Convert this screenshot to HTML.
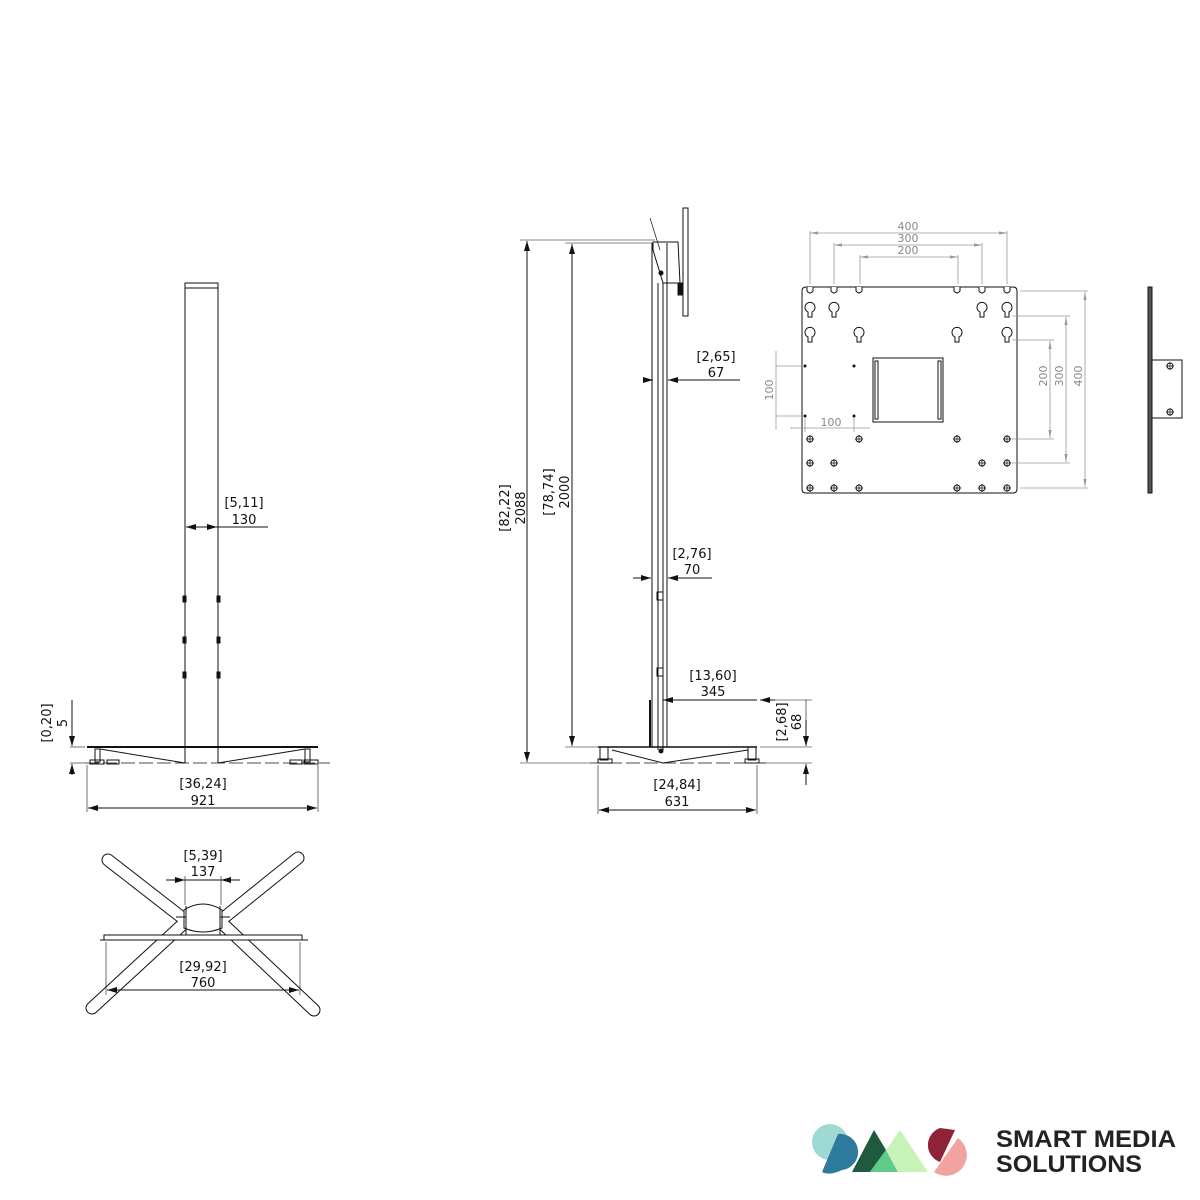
<!DOCTYPE html>
<html><head><meta charset="utf-8"><style>
html,body{margin:0;padding:0;background:#fff}
svg{display:block}
text{font-family:"DejaVu Sans","Liberation Sans",sans-serif;fill:#111}
.d{font-size:13px;text-anchor:middle}
.g{font-size:11px;fill:#888;text-anchor:middle}
</style></head><body>
<svg width="1200" height="1200" viewBox="0 0 1200 1200" xmlns="http://www.w3.org/2000/svg">
<defs>
<marker id="a" viewBox="0 0 10 6" refX="10" refY="3" markerWidth="10" markerHeight="6" orient="auto-start-reverse"><path d="M0,0L10,3L0,6z" fill="#111"/></marker>
<marker id="ag" viewBox="0 0 10 4" refX="10" refY="2" markerWidth="10" markerHeight="4" orient="auto-start-reverse"><path d="M0,0L10,2L0,4z" fill="#999"/></marker>
<g id="notch"><path d="M-3,0 L-3,4 Q0,8 3,4 L3,0" fill="#fff" stroke="#111"/></g>
<g id="kh"><path d="M-2,4 L-2,9 L2,9 L2,4 A5,5 0 1 0 -2,4 Z" fill="none" stroke="#111"/></g>
<g id="sc" fill="none" stroke="#111"><circle r="3"/><path d="M-4,0H4M0,-4V4" stroke-width="0.7"/></g>
</defs>
<g stroke="#111" fill="none" stroke-width="1">
<!-- LEFT FRONT VIEW -->
<rect x="185" y="283" width="33" height="464"/>
<line x1="185" y1="288" x2="218" y2="288"/>
<rect x="183" y="596" width="3" height="6" fill="#111"/><rect x="217" y="596" width="3" height="6" fill="#111"/>
<rect x="183" y="637" width="3" height="6" fill="#111"/><rect x="217" y="637" width="3" height="6" fill="#111"/>
<rect x="183" y="672" width="3" height="6" fill="#111"/><rect x="217" y="672" width="3" height="6" fill="#111"/>
<line x1="87" y1="747" x2="318" y2="747" stroke-width="2"/>
<path d="M100,749 L185,763 M218,763 L305,749"/>
<line x1="185" y1="747" x2="185" y2="763"/><line x1="218" y1="747" x2="218" y2="763"/>
<rect x="95" y="749" width="5" height="13"/><rect x="305" y="749" width="5" height="13"/>
<rect x="90" y="760" width="14" height="4"/><rect x="107" y="760" width="12" height="4"/>
<rect x="290" y="760" width="12" height="4"/><rect x="304" y="760" width="14" height="4"/>
<line x1="85" y1="763" x2="330" y2="763" stroke-dasharray="14,4" stroke-width="0.7"/>
<line x1="87" y1="765" x2="87" y2="812" stroke-width="0.6"/><line x1="318" y1="765" x2="318" y2="812" stroke-width="0.6"/>
<line x1="88" y1="808" x2="317" y2="808" marker-start="url(#a)" marker-end="url(#a)"/>
<line x1="186" y1="527" x2="217" y2="527" marker-start="url(#a)" marker-end="url(#a)"/>
<line x1="217" y1="527" x2="268" y2="527"/>
<line x1="70" y1="747" x2="85" y2="747" stroke-width="0.6"/><line x1="70" y1="763" x2="85" y2="763" stroke-width="0.6"/>
<line x1="72" y1="700" x2="72" y2="746" marker-end="url(#a)"/>
<line x1="72" y1="775" x2="72" y2="764" marker-end="url(#a)"/>
<!-- BOTTOM VIEW X -->
<g stroke-linecap="round">
<path d="M108,860 L180,916 M298,858 L226,916 M92,1008 L182,925 M314,1010 L224,925" stroke="#111" stroke-width="13"/>
<path d="M108,860 L180,916 M298,858 L226,916 M92,1008 L182,925 M314,1010 L224,925" stroke="#fff" stroke-width="11"/>
</g>
<rect x="104" y="935" width="198" height="5" fill="#fff"/>
<line x1="100" y1="940" x2="308" y2="940"/>
<path d="M184,910 Q203,898 222,910 L222,928 Q203,936 184,928 Z" fill="#fff"/>
<line x1="186" y1="906" x2="186" y2="935"/><line x1="220" y1="906" x2="220" y2="935"/>
<line x1="176" y1="917" x2="186" y2="917"/><line x1="220" y1="917" x2="230" y2="917"/>
<line x1="106" y1="942" x2="106" y2="995" stroke-width="0.6"/><line x1="300" y1="942" x2="300" y2="995" stroke-width="0.6"/>
<line x1="107" y1="990" x2="299" y2="990" marker-start="url(#a)" marker-end="url(#a)"/>
<line x1="166" y1="880" x2="185" y2="880" marker-end="url(#a)"/><line x1="240" y1="880" x2="221" y2="880" marker-end="url(#a)"/>
<line x1="185" y1="880" x2="221" y2="880"/>
<line x1="185" y1="876" x2="185" y2="905" stroke-width="0.6"/><line x1="221" y1="876" x2="221" y2="905" stroke-width="0.6"/>
<!-- MIDDLE SIDE VIEW -->
<rect x="683" y="208" width="5" height="108"/>
<path d="M653,242 L678,242 L680,283 L663,283 L653,250 Z"/>
<line x1="650" y1="218" x2="660" y2="250" stroke-width="0.7"/>
<circle cx="661" cy="273" r="2" fill="#111"/>
<rect x="678" y="283" width="4" height="12" fill="#111"/>
<line x1="652" y1="243" x2="652" y2="747"/><line x1="667" y1="243" x2="667" y2="747"/>
<line x1="658" y1="283" x2="658" y2="750"/><line x1="663" y1="283" x2="663" y2="750"/>
<rect x="657" y="592" width="6" height="8"/><rect x="657" y="668" width="6" height="8"/>
<line x1="650" y1="700" x2="650" y2="747" stroke-width="2"/>
<line x1="598" y1="747" x2="757" y2="747" stroke-width="1.5"/>
<path d="M612,750 L663,763 L748,750"/>
<rect x="600" y="747" width="8" height="13"/><rect x="748" y="747" width="8" height="13"/>
<rect x="598" y="759" width="14" height="4"/><rect x="745" y="759" width="14" height="4"/>
<line x1="590" y1="763" x2="770" y2="763" stroke-dasharray="14,4" stroke-width="0.7"/>
<circle cx="661" cy="751" r="2" fill="#111"/>
<line x1="598" y1="765" x2="598" y2="814" stroke-width="0.6"/><line x1="757" y1="765" x2="757" y2="814" stroke-width="0.6"/>
<line x1="599" y1="810" x2="756" y2="810" marker-start="url(#a)" marker-end="url(#a)"/>
<line x1="520" y1="240" x2="655" y2="240" stroke-width="0.6"/><line x1="565" y1="243" x2="652" y2="243" stroke-width="0.6"/>
<line x1="520" y1="763" x2="590" y2="763" stroke-width="0.6"/><line x1="565" y1="747" x2="598" y2="747" stroke-width="0.6"/>
<line x1="527" y1="241" x2="527" y2="762" marker-start="url(#a)" marker-end="url(#a)"/>
<line x1="572" y1="244" x2="572" y2="746" marker-start="url(#a)" marker-end="url(#a)"/>
<line x1="645" y1="380" x2="653" y2="380" marker-end="url(#a)"/>
<line x1="685" y1="380" x2="668" y2="380" marker-end="url(#a)"/><line x1="685" y1="380" x2="740" y2="380"/>
<line x1="633" y1="578" x2="651" y2="578" marker-end="url(#a)"/>
<line x1="685" y1="578" x2="668" y2="578" marker-end="url(#a)"/><line x1="685" y1="578" x2="712" y2="578"/>
<line x1="663" y1="700" x2="757" y2="700"/>
<line x1="663" y1="700" x2="676" y2="700" marker-start="url(#a)"/>
<line x1="775" y1="700" x2="760" y2="700" marker-end="url(#a)"/>
<line x1="760" y1="700" x2="812" y2="700" stroke-width="0.6"/>
<line x1="760" y1="747" x2="812" y2="747" stroke-width="0.6"/>
<line x1="760" y1="763" x2="812" y2="763" stroke-width="0.6"/>
<line x1="806" y1="720" x2="806" y2="746" marker-end="url(#a)"/>
<line x1="806" y1="785" x2="806" y2="764" marker-end="url(#a)"/>
<line x1="806" y1="700" x2="806" y2="720" stroke-width="0.6"/>
<!-- PLATE -->
<path d="M806,287 L1013,287 Q1017,287 1017,291 L1017,489 Q1017,493 1013,493 L806,493 Q802,493 802,489 L802,291 Q802,287 806,287 Z"/>
<rect x="873" y="358" width="70" height="64"/>
<rect x="875" y="361" width="3" height="58"/><rect x="938" y="361" width="3" height="58"/>
<use href="#notch" x="810" y="287"/><use href="#notch" x="834" y="287"/><use href="#notch" x="859" y="287"/>
<use href="#notch" x="957" y="287"/><use href="#notch" x="982" y="287"/><use href="#notch" x="1007" y="287"/>
<use href="#kh" x="810" y="308"/><use href="#kh" x="834" y="308"/><use href="#kh" x="982" y="308"/><use href="#kh" x="1007" y="308"/>
<use href="#kh" x="810" y="333"/><use href="#kh" x="859" y="333"/><use href="#kh" x="957" y="333"/><use href="#kh" x="1007" y="333"/>
<g fill="#111" stroke="none"><circle cx="805" cy="366" r="1.5"/><circle cx="854" cy="366" r="1.5"/><circle cx="805" cy="416" r="1.5"/><circle cx="854" cy="416" r="1.5"/></g>
<use href="#sc" x="810" y="439"/><use href="#sc" x="859" y="439"/><use href="#sc" x="957" y="439"/><use href="#sc" x="1007" y="439"/>
<use href="#sc" x="810" y="463"/><use href="#sc" x="834" y="463"/><use href="#sc" x="982" y="463"/><use href="#sc" x="1007" y="463"/>
<use href="#sc" x="810" y="488"/><use href="#sc" x="834" y="488"/><use href="#sc" x="859" y="488"/><use href="#sc" x="957" y="488"/><use href="#sc" x="982" y="488"/><use href="#sc" x="1007" y="488"/>
<!-- side profile -->
<rect x="1148" y="287" width="4" height="206" fill="#555"/>
<rect x="1152" y="360" width="30" height="58"/>
<use href="#sc" x="1170" y="366"/><use href="#sc" x="1170" y="412"/>
</g>
<g stroke="#999" fill="none" stroke-width="0.8">
<line x1="810" y1="233" x2="1007" y2="233" marker-start="url(#ag)" marker-end="url(#ag)"/>
<line x1="834" y1="245" x2="982" y2="245" marker-start="url(#ag)" marker-end="url(#ag)"/>
<line x1="860" y1="257" x2="958" y2="257" marker-start="url(#ag)" marker-end="url(#ag)"/>
<line x1="810" y1="231" x2="810" y2="284"/><line x1="1007" y1="231" x2="1007" y2="284"/>
<line x1="834" y1="243" x2="834" y2="284"/><line x1="982" y1="243" x2="982" y2="284"/>
<line x1="860" y1="255" x2="860" y2="284"/><line x1="958" y1="255" x2="958" y2="284"/>
<line x1="1020" y1="291" x2="1088" y2="291"/><line x1="1020" y1="488" x2="1088" y2="488"/>
<line x1="1012" y1="316" x2="1070" y2="316"/><line x1="1012" y1="463" x2="1070" y2="463"/>
<line x1="1012" y1="340" x2="1054" y2="340"/><line x1="1012" y1="439" x2="1054" y2="439"/>
<line x1="1085" y1="292" x2="1085" y2="487" marker-start="url(#ag)" marker-end="url(#ag)"/>
<line x1="1066" y1="317" x2="1066" y2="462" marker-start="url(#ag)" marker-end="url(#ag)"/>
<line x1="1050" y1="341" x2="1050" y2="438" marker-start="url(#ag)" marker-end="url(#ag)"/>
<line x1="776" y1="366" x2="803" y2="366"/><line x1="776" y1="416" x2="803" y2="416"/>
<line x1="776" y1="351" x2="776" y2="430"/>
<line x1="790" y1="428" x2="870" y2="428"/><line x1="805" y1="418" x2="805" y2="432"/><line x1="854" y1="418" x2="854" y2="432"/>
</g>
<g class="g">
<text x="908" y="230" class="g">400</text><text x="908" y="242" class="g">300</text><text x="908" y="254" class="g">200</text>
<text x="831" y="426" class="g">100</text>
<text class="g" transform="translate(773,390) rotate(-90)">100</text>
<text class="g" transform="translate(1047,376) rotate(-90)">200</text>
<text class="g" transform="translate(1063,376) rotate(-90)">300</text>
<text class="g" transform="translate(1082,376) rotate(-90)">400</text>
</g>
<g class="d">
<text x="244" y="507" class="d">[5,11]</text><text x="244" y="524" class="d">130</text>
<text x="203" y="788" class="d">[36,24]</text><text x="203" y="805" class="d">921</text>
<text class="d" transform="translate(51,723) rotate(-90)">[0,20]</text><text class="d" transform="translate(67,723) rotate(-90)">5</text>
<text x="203" y="860" class="d">[5,39]</text><text x="203" y="876" class="d">137</text>
<text x="203" y="971" class="d">[29,92]</text><text x="203" y="987" class="d">760</text>
<text x="716" y="361" class="d">[2,65]</text><text x="716" y="377" class="d">67</text>
<text x="692" y="558" class="d">[2,76]</text><text x="692" y="574" class="d">70</text>
<text x="713" y="680" class="d">[13,60]</text><text x="713" y="696" class="d">345</text>
<text class="d" transform="translate(786,722) rotate(-90)">[2,68]</text><text class="d" transform="translate(801,722) rotate(-90)">68</text>
<text x="677" y="789" class="d">[24,84]</text><text x="677" y="806" class="d">631</text>
<text class="d" transform="translate(509,508) rotate(-90)">[82,22]</text><text class="d" transform="translate(525,508) rotate(-90)">2088</text>
<text class="d" transform="translate(553,492) rotate(-90)">[78,74]</text><text class="d" transform="translate(569,492) rotate(-90)">2000</text>
</g>
<!-- LOGO -->
<circle cx="830" cy="1142" r="18" fill="#9fd9d3"/>
<path d="M838,1134 A18,18 0 0 1 842,1170 Q830,1176 822,1172 Z" fill="#2d7a9c"/>
<path d="M852,1172 L874,1130 L886,1150 L870,1172 Z" fill="#1d5a3e"/>
<path d="M870,1172 L886,1150 L898,1172 Z" fill="#5ecb8b"/>
<path d="M886,1150 L900,1130 L928,1172 L898,1172 Z" fill="#c7f3b8"/>
<path d="M958,1138 A18,18 0 0 1 934,1172 Z" fill="#f0a3a0"/>
<path d="M940,1162 A18,18 0 0 1 940,1128 L955,1130 Z" fill="#8e2236"/>
<text x="996" y="1147" style="font-size:24px;font-weight:bold;font-family:'Liberation Sans',sans-serif;fill:#222" textLength="180" lengthAdjust="spacingAndGlyphs">SMART MEDIA</text>
<text x="996" y="1172" style="font-size:24px;font-weight:bold;font-family:'Liberation Sans',sans-serif;fill:#222" textLength="146" lengthAdjust="spacingAndGlyphs">SOLUTIONS</text>
</svg>
</body></html>
